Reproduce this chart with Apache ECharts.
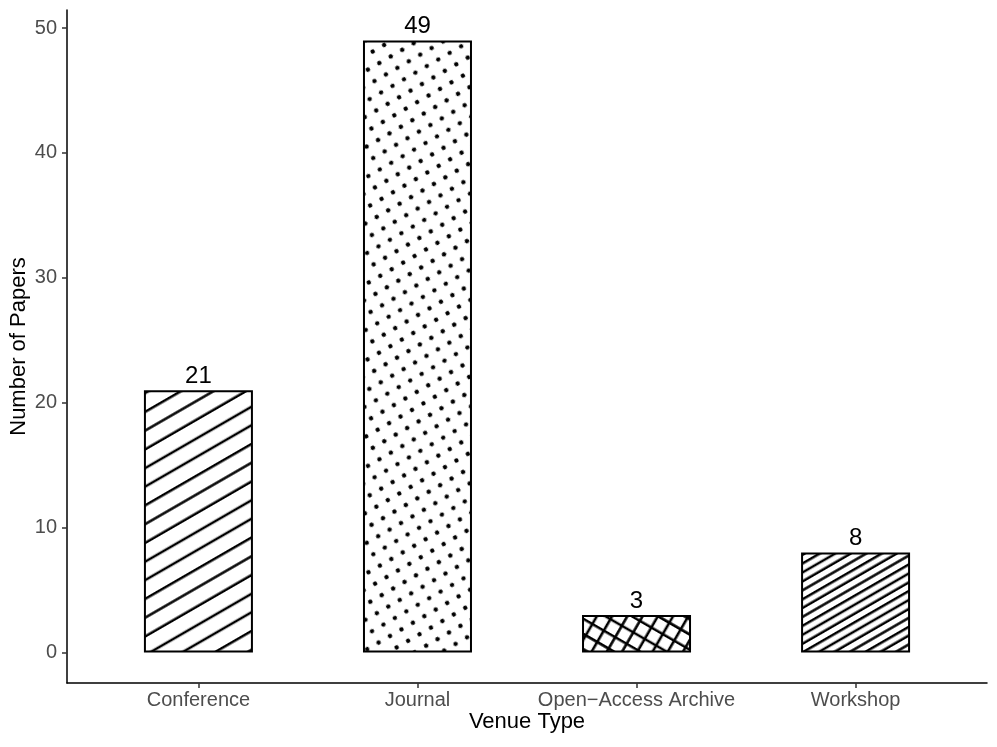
<!DOCTYPE html>
<html>
<head>
<meta charset="utf-8">
<script src="https://cdn.jsdelivr.net/npm/echarts@6/dist/echarts.min.js"></script>
<style>
  html, body { margin: 0; padding: 0; background: #fff; }
  #chart { width: 997px; height: 747px; }
</style>
</head>
<body>
<div id="chart"></div>
<script>
// data
var venueTypes = ['Conference', 'Journal', 'Open\u2212Access Archive', 'Workshop'];
var paperCounts = [21, 49, 3, 8];
var yTicks = [0, 10, 20, 30, 40, 50];
var patternKinds = ['stripe-wide', 'dots', 'crosshatch', 'stripe-dense'];

var FONT = "'Liberation Sans', Arial, sans-serif";

// tile builders for the fills (rotated 30 degrees later)
function stripeTile(spacing, count) {
  var size = Math.round(spacing * count);
  var c = document.createElement('canvas');
  c.width = size; c.height = size;
  var ctx = c.getContext('2d');
  ctx.fillStyle = '#fff';
  ctx.fillRect(0, 0, size, size);
  ctx.strokeStyle = '#000';
  ctx.lineWidth = 2.5;
  for (var k = 0; k < count; k++) {
    var y = spacing / 2 + k * size / count;
    ctx.beginPath(); ctx.moveTo(0, y); ctx.lineTo(size, y); ctx.stroke();
  }
  return c;
}
function dotTile(spacing, count, r) {
  var size = Math.round(spacing * count);
  var step = size / count;
  var c = document.createElement('canvas');
  c.width = size; c.height = size;
  var ctx = c.getContext('2d');
  ctx.fillStyle = '#fff';
  ctx.fillRect(0, 0, size, size);
  ctx.fillStyle = '#000';
  for (var i = 0; i < count; i++) {
    for (var j = 0; j < count; j++) {
      ctx.beginPath();
      ctx.arc(step / 2 + i * step, step / 2 + j * step, r, 0, Math.PI * 2);
      ctx.fill();
    }
  }
  return c;
}
function crossTile(spacing, count) {
  var size = Math.round(spacing * count);
  var step = size / count;
  var c = document.createElement('canvas');
  c.width = size; c.height = size;
  var ctx = c.getContext('2d');
  ctx.fillStyle = '#fff';
  ctx.fillRect(0, 0, size, size);
  ctx.strokeStyle = '#000';
  ctx.lineWidth = 2.6;
  for (var k = 0; k < count; k++) {
    var p = step / 2 + k * step;
    ctx.beginPath(); ctx.moveTo(0, p); ctx.lineTo(size, p); ctx.stroke();
    ctx.beginPath(); ctx.moveTo(p, 0); ctx.lineTo(p, size); ctx.stroke();
  }
  return c;
}

function makeFill(kind) {
  var img;
  var rot = -Math.PI / 6;
  if (kind == 'stripe-wide') img = stripeTile(16.2, 5);
  else if (kind == 'stripe-dense') img = stripeTile(7.7, 10);
  else if (kind == 'dots') img = dotTile(13.2, 5, 2.2);
  else { img = crossTile(13.2, 5); rot = Math.PI / 6; }
  return { image: img, repeat: 'repeat', rotation: rot };
}

var barData = [];
for (var i = 0; i < paperCounts.length; i++) {
  barData.push({
    value: [i + 1, paperCounts[i]],
    itemStyle: { color: makeFill(patternKinds[i]) }
  });
}

var myChart = echarts.init(document.getElementById('chart'));
var option = {
  backgroundColor: '#fff',
  animation: false,
  grid: { left: 67, right: 10, top: 10, bottom: 64, outerBoundsMode: 'none' },
  xAxis: {
    type: 'value',
    min: 0.4,
    max: 4.6,
    name: 'Venue Type',
    nameLocation: 'middle',
    nameGap: 28,
    nameMoveOverlap: false,
    nameTextStyle: { color: '#000', fontSize: 22, fontFamily: FONT },
    axisLine: { show: true, onZero: false, lineStyle: { color: '#000', width: 1.5 } },
    axisTick: { show: true, length: 5, lineStyle: { color: '#333', width: 1.5 },
      customValues: [1, 2, 3, 4] },
    axisLabel: {
      color: '#4d4d4d', fontSize: 20, fontFamily: FONT, margin: 7,
      customValues: [1, 2, 3, 4],
      formatter: function (v) { return venueTypes[Math.round(v) - 1]; }
    },
    splitLine: { show: false }
  },
  yAxis: {
    type: 'value',
    min: -2.45,
    max: 51.45,
    name: 'Number of Papers',
    nameLocation: 'middle',
    nameGap: 37,
    nameMoveOverlap: false,
    nameTextStyle: { color: '#000', fontSize: 22, fontFamily: FONT },
    axisLine: { show: true, onZero: false, lineStyle: { color: '#000', width: 1.5 } },
    axisTick: { show: true, length: 5, lineStyle: { color: '#333', width: 1.5 },
      customValues: yTicks },
    axisLabel: { color: '#4d4d4d', fontSize: 20, fontFamily: FONT, margin: 10,
      customValues: yTicks },
    splitLine: { show: false }
  },
  series: [{
    type: 'bar',
    barWidth: 109,
    data: barData,
    itemStyle: { borderColor: '#000', borderWidth: 2 },
    label: {
      show: true,
      position: 'top',
      distance: 2,
      color: '#000',
      fontSize: 24,
      fontFamily: FONT,
      formatter: function (p) { return p.value[1]; }
    }
  }]
};
myChart.setOption(option);
</script>
</body>
</html>
